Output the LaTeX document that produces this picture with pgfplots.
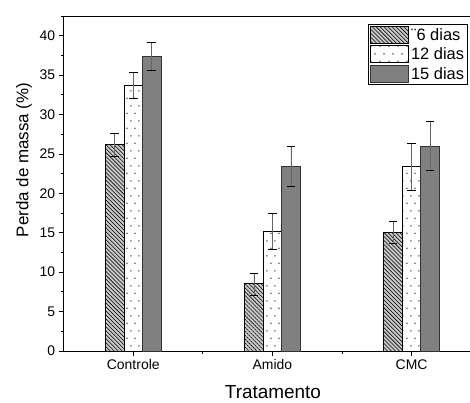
\documentclass[border=0pt]{standalone}
\usepackage{pgfplots}
\usepackage{pgfplotstable}
\pgfplotsset{compat=1.18}
\usepackage{fontspec}
\setmainfont{Liberation Sans}
\usetikzlibrary{patterns,patterns.meta}

\pgfdeclarepatternformonly{sparsedots}{\pgfpoint{0bp}{0bp}}{\pgfpoint{8.4bp}{15.4bp}}{\pgfpoint{8.4bp}{15.4bp}}{%
  \pgfpathcircle{\pgfpoint{2.1bp}{3.85bp}}{1bp}%
  \pgfpathcircle{\pgfpoint{6.3bp}{11.55bp}}{1bp}%
  \pgfusepath{fill}}

\definecolor{hatchfill}{RGB}{200,200,200}
\definecolor{darkbar}{RGB}{128,128,128}
\definecolor{dotcol}{RGB}{110,110,110}

\pgfplotstableread{
x y e
0 26.2 1.45
1 8.5 1.4
2 15.05 1.45
}\sixd
\pgfplotstableread{
x y e
0 33.7 1.7
1 15.2 2.3
2 23.4 3.0
}\twelved
\pgfplotstableread{
x y e
0 37.4 1.8
1 23.4 2.5
2 26.0 3.1
}\fifteend

\pgfplotsset{
  mylegend/.style={legend image code/.code={\draw[##1] (0bp,-8.5bp) rectangle (38bp,8.5bp);}},
  myerr/.style={error bars/.cd, y dir=both, y explicit,
     error bar style={line width=0.8bp, color=black!60},
     error mark options={rotate=90, mark size=4.3bp, line width=0.8bp, black}},
}

\begin{document}
\begin{tikzpicture}
\begin{axis}[
  name=ax,
  scale only axis, width=406.3bp, height=335bp,
  xmin=-0.5, xmax=2.42, ymin=0, ymax=42.5,
  axis x line*=bottom, axis y line*=left,
  axis line style={-, line width=0.8bp},
  ybar=0pt, bar width=18.5bp,
  xtick={0,1,2}, xticklabels={Controle,Amido,CMC}, minor xtick={0.5,1.5},
  ytick={0,5,...,40}, minor ytick={2.5,7.5,...,42.5},
  tick align=outside, major tick length=5bp, minor tick length=3bp,
  tick style={black, line width=0.8bp},
  /pgf/number format/assume math mode=true,
  ticklabel style={font=\fontsize{14}{16}\selectfont},
  xlabel={Tratamento},
  x label style={at={(axis description cs:0.515,0)}, anchor=base, yshift=-47.5bp, font=\fontsize{19}{22}\selectfont},
  ylabel={Perda de massa (\%)},
  y label style={at={(axis description cs:-0.0977,0.57)}, anchor=center, font=\fontsize{17}{20}\selectfont},
  legend style={at={(axis description cs:0.995,0.976)}, anchor=north east,
    draw=black, line width=0.8bp, font=\fontsize{16.5}{19}\selectfont,
    inner sep=1.5bp, row sep=1.5bp, cells={anchor=west}},
  legend cell align=left,
  clip=false,
]
\addplot[draw=black, line width=1bp, fill=hatchfill,
  postaction={pattern={Lines[angle=-45,distance=2.8bp,line width=0.55bp]}},
  mylegend, myerr] table[x=x, y=y, y error=e]{\sixd};
\addlegendentry{¨6 dias}
\addplot[draw=black, line width=1bp, fill=white,
  postaction={pattern=sparsedots, pattern color=dotcol},
  mylegend, myerr] table[x=x, y=y, y error=e]{\twelved};
\addlegendentry{12 dias}
\addplot[draw=black!80, line width=1bp, fill=darkbar,
  mylegend, myerr] table[x=x, y=y, y error=e]{\fifteend};
\addlegendentry{15 dias}
\end{axis}
\draw[line width=0.8bp] (ax.north west) -- (ax.north east);
\pgfresetboundingbox
\path ([xshift=-63.7bp,yshift=-52bp]ax.south west) rectangle ([yshift=16bp]ax.north east);
\end{tikzpicture}
\end{document}
